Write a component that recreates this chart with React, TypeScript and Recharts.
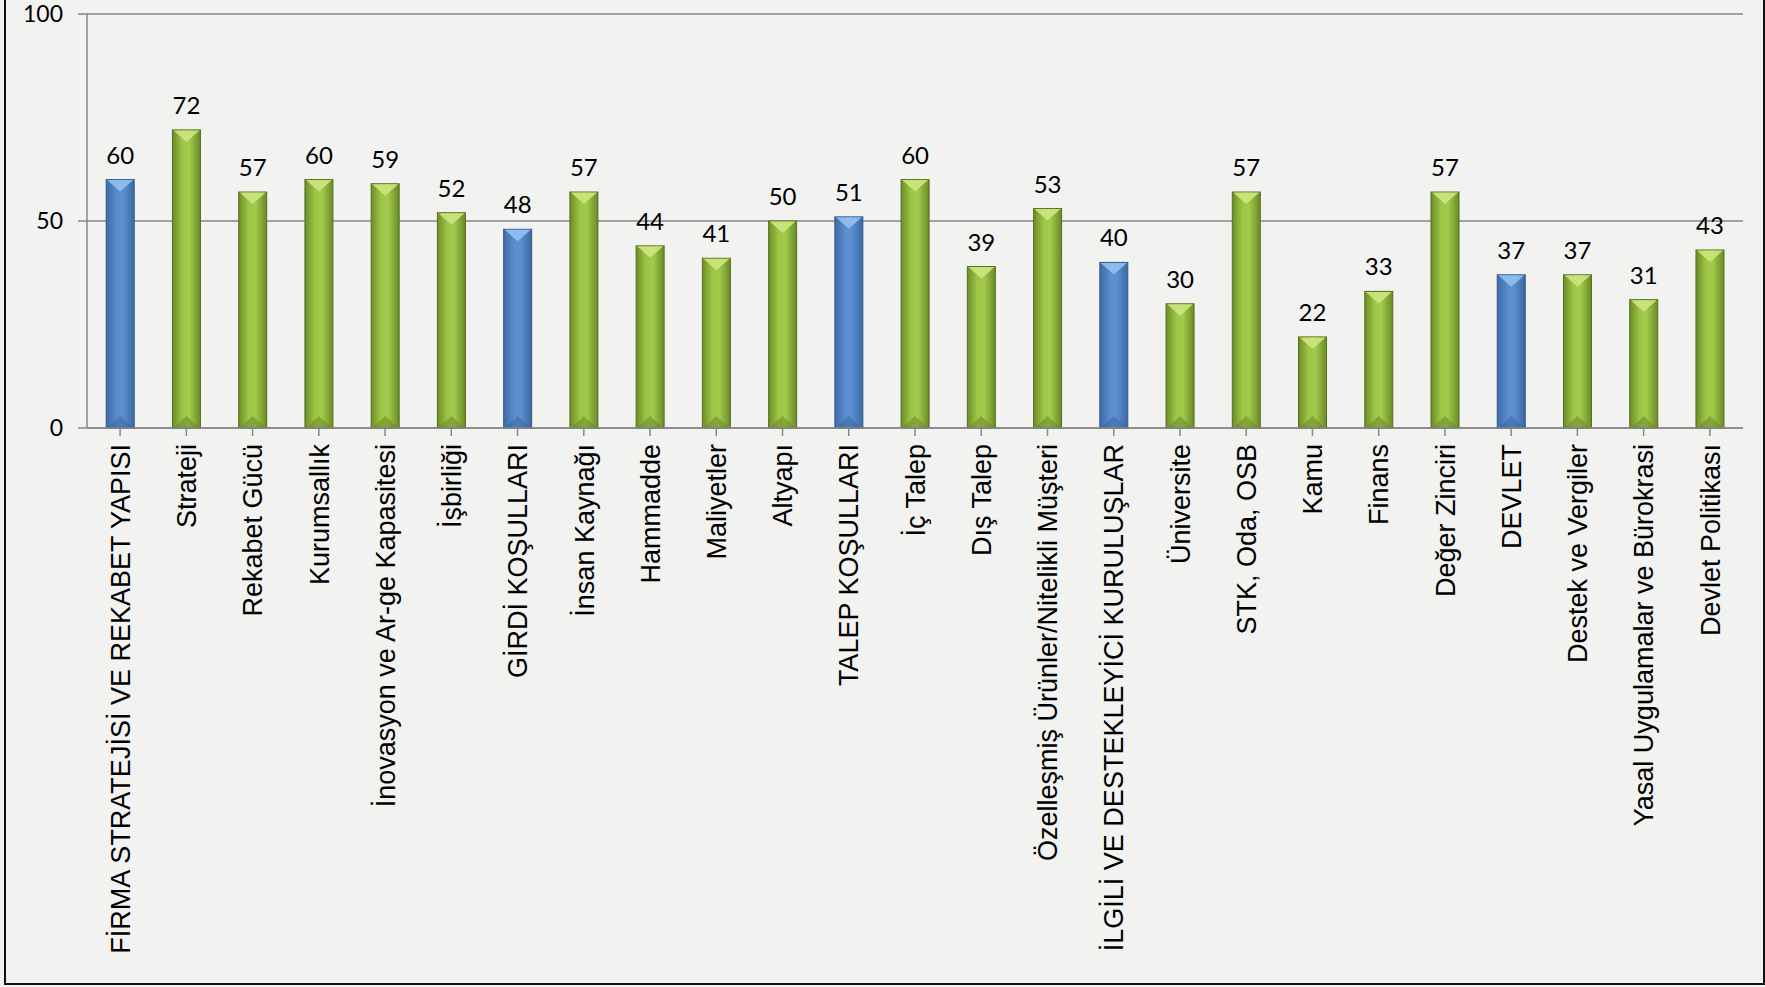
import { BarChart, Bar, XAxis, YAxis, CartesianGrid, LabelList } from 'recharts'

const categories = [
  'FİRMA STRATEJİSİ VE REKABET YAPISI', 'Strateji', 'Rekabet Gücü', 'Kurumsallık',
  'İnovasyon ve Ar-ge Kapasitesi', 'İşbirliği', 'GİRDİ KOŞULLARI', 'İnsan Kaynağı',
  'Hammadde', 'Maliyetler', 'Altyapı', 'TALEP KOŞULLARI', 'İç Talep', 'Dış Talep',
  'Özelleşmiş Ürünler/Nitelikli Müşteri', 'İLGİLİ VE DESTEKLEYİCİ KURULUŞLAR', 'Üniversite',
  'STK, Oda, OSB', 'Kamu', 'Finans', 'Değer Zinciri', 'DEVLET', 'Destek ve Vergiler',
  'Yasal Uygulamalar ve Bürokrasi', 'Devlet Politikası',
]
const scores = [60, 72, 57, 60, 59, 52, 48, 57, 44, 41, 50, 51, 60, 39, 53, 40, 30, 57, 22, 33, 57, 37, 37, 31, 43]
// main headings are drawn in blue, sub-factors in green
const isHeading = [
  true, false, false, false, false, false, true, false, false, false, false, true, false,
  false, false, true, false, false, false, false, false, true, false, false, false,
]
const yTicks = [0, 50, 100]

const data = categories.map((name, i) => ({ name, value: scores[i], heading: isHeading[i] }))

const BevelBar = (props: any) => {
  const { x, y, width, height, payload } = props
  if (!height || height <= 0) return null
  const g = payload.heading ? 'gBlue' : 'gGreen'
  const top = payload.heading ? '#93c0f0' : '#cde67f'
  const bot = payload.heading ? '#34609a' : '#5f7d22'
  const b = Math.min(12, width / 2.3)
  return (
    <g>
      <rect x={x} y={y} width={width} height={height} fill={`url(#${g})`} stroke={payload.heading ? '#2f5a8e' : '#566f1e'} strokeWidth={1} />
      <polygon points={`${x + 1},${y + 0.5} ${x + width - 1},${y + 0.5} ${x + width / 2},${y + b}`} fill={top} opacity={0.9} />
      <polygon points={`${x + 1},${y + height} ${x + width - 1},${y + height} ${x + width / 2},${y + height - b}`} fill={bot} opacity={0.45} />
    </g>
  )
}

const CatTick = (props: any) => {
  const { x, y, payload } = props
  return (
    <text
      x={x} y={y + 6}
      transform={`rotate(-90, ${x}, ${y + 6})`}
      textAnchor="end" dy="0.36em"
      fontFamily="'Liberation Sans', Arial, sans-serif" fontSize={27} fill="#000"
    >
      {payload.value}
    </text>
  )
}

export default function App() {
  return (
    <div style={{ position: 'absolute', left: 0, top: 0, width: 1765, height: 987, background: '#f2f2f1' }}>
      <div style={{
        position: 'absolute', left: 4, top: -2, width: 1757, height: 985,
        borderLeft: '2px solid #111', borderRight: '2px solid #111', borderBottom: '2px solid #111',
      }} />
      <div style={{ position: 'absolute', left: 0, top: 0 }}>
        <BarChart width={1765} height={987} data={data}
          margin={{ top: 14, right: 22, left: 0, bottom: 0 }} barCategoryGap="29%">
          <defs>
            <linearGradient id="gGreen" x1="0" y1="0" x2="1" y2="0">
              <stop offset="0%" stopColor="#6c8c29" />
              <stop offset="35%" stopColor="#9cc545" />
              <stop offset="60%" stopColor="#a2cb4b" />
              <stop offset="100%" stopColor="#6a8a27" />
            </linearGradient>
            <linearGradient id="gBlue" x1="0" y1="0" x2="1" y2="0">
              <stop offset="0%" stopColor="#3d6ba6" />
              <stop offset="40%" stopColor="#5a8fd2" />
              <stop offset="60%" stopColor="#5b8fd0" />
              <stop offset="100%" stopColor="#3c69a3" />
            </linearGradient>
          </defs>
          <CartesianGrid vertical={false} stroke="#878787" strokeWidth={1.5} />
          <XAxis dataKey="name" interval={0} height={559} tick={<CatTick />}
            tickLine={{ stroke: '#878787' }} tickSize={8} stroke="#878787" strokeWidth={1.5} />
          <YAxis domain={[0, 100]} ticks={yTicks} width={87} tickSize={9} tickMargin={15}
            stroke="#878787" strokeWidth={1.5}
            tick={{ fill: '#000', fontSize: 23, fontFamily: 'Lato, sans-serif' }} />
          <Bar dataKey="value" shape={<BevelBar />} isAnimationActive={false}>
            <LabelList dataKey="value" position="top" offset={16}
              style={{ fill: '#000', fontSize: 24, fontFamily: 'Lato, sans-serif' }} />
          </Bar>
        </BarChart>
      </div>
    </div>
  )
}
